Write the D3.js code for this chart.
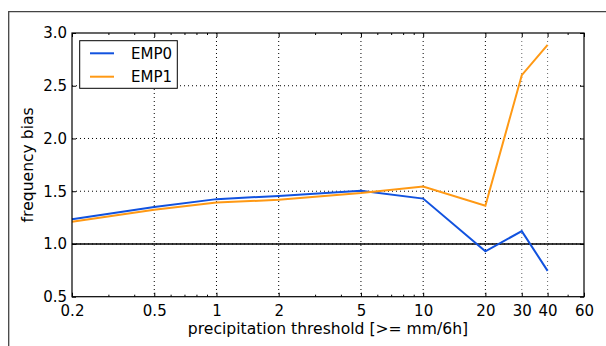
<!DOCTYPE html>
<html>
<head>
<meta charset="utf-8">
<script src="https://cdn.jsdelivr.net/npm/d3@7"></script>
<style>
  html, body { margin: 0; padding: 0; background: #fff; }
  svg { display: block; }
  text { font-family: "DejaVu Sans", sans-serif; fill: #000; }
</style>
</head>
<body>
<svg id="chart" width="606" height="346"></svg>
<script>
// ---- data ----
const thresholds = [0.2, 0.5, 1, 2, 5, 10, 20, 30, 40];
const emp0 = [1.235, 1.35, 1.425, 1.455, 1.505, 1.43, 0.93, 1.122, 0.745];
const emp1 = [1.21, 1.325, 1.392, 1.418, 1.482, 1.545, 1.362, 2.6, 2.887];
const seriesNames = ["EMP0", "EMP1"];
const seriesColors = ["#1152df", "#ff9914"];
const xMajorTicks = [0.2, 0.5, 1, 2, 5, 10, 20, 30, 40, 60];
const xTickLabels = ["0.2", "0.5", "1", "2", "5", "10", "20", "30", "40", "60"];
const xMinorTicks = [0.3, 0.4, 0.6, 0.7, 0.8, 0.9, 3, 4, 6, 7, 8, 9, 50];
const yTicks = [0.5, 1.0, 1.5, 2.0, 2.5, 3.0];
const refValue = 1.0;

// ---- layout ----
const svg = d3.select("#chart");
const L = 72, R = 584, T = 33, B = 296.7;
const x = d3.scaleLog().domain([0.2, 60]).range([L, R]);
const y = d3.scaleLinear().domain([0.5, 3.0]).range([B, T]);

// outer figure border (left & top visible)
svg.append("path")
  .attr("d", `M8.7,346 L8.7,11.7 L606,11.7`)
  .attr("fill", "none").attr("stroke", "#444").attr("stroke-width", 1.3);

// plot background
svg.append("rect").attr("x", L).attr("y", T).attr("width", R - L).attr("height", B - T).attr("fill", "#fff");

// grid
const grid = svg.append("g").attr("stroke", "#000").attr("stroke-width", 1).attr("stroke-dasharray", "1,3");
xMajorTicks.slice(1, -1).forEach(v => {
  grid.append("line").attr("x1", x(v)).attr("x2", x(v)).attr("y1", T).attr("y2", B)
    .attr("stroke", v >= 30 ? "#666" : "#000");
});
yTicks.slice(1, -1).forEach(v => {
  grid.append("line").attr("x1", L).attr("x2", R).attr("y1", y(v)).attr("y2", y(v));
});

// reference line at 1.0
svg.append("line").attr("x1", L).attr("x2", R).attr("y1", y(refValue)).attr("y2", y(refValue))
  .attr("stroke", "#000").attr("stroke-width", 1.5);

// series lines
const line = d3.line().x((d, i) => x(thresholds[i])).y(d => y(d));
[emp0, emp1].forEach((s, k) => {
  svg.append("path").datum(s).attr("d", line)
    .attr("fill", "none").attr("stroke", seriesColors[k]).attr("stroke-width", 2)
    .attr("stroke-linejoin", "miter");
});

// axes with inward ticks
const fmt = d => xTickLabels[xMajorTicks.indexOf(d)];
const axB = svg.append("g").attr("transform", `translate(0,${B})`)
  .call(d3.axisBottom(x).tickValues(xMajorTicks).tickFormat(fmt).tickSize(-4).tickPadding(9));
const axBm = svg.append("g").attr("transform", `translate(0,${B})`)
  .call(d3.axisBottom(x).tickValues(xMinorTicks).tickFormat("").tickSize(-2));
const axT = svg.append("g").attr("transform", `translate(0,${T})`)
  .call(d3.axisTop(x).tickValues(xMajorTicks).tickFormat("").tickSize(-4));
const axTm = svg.append("g").attr("transform", `translate(0,${T})`)
  .call(d3.axisTop(x).tickValues(xMinorTicks).tickFormat("").tickSize(-2));
const axL = svg.append("g").attr("transform", `translate(${L},0)`)
  .call(d3.axisLeft(y).tickValues(yTicks).tickFormat(d3.format(".1f")).tickSize(-4).tickPadding(5));
const axR = svg.append("g").attr("transform", `translate(${R},0)`)
  .call(d3.axisRight(y).tickValues(yTicks).tickFormat("").tickSize(-4));

[axB, axBm, axT, axTm, axL, axR].forEach(g => {
  g.select(".domain").remove();
  g.selectAll(".tick line").attr("stroke", "#000").attr("stroke-width", 1);
  g.selectAll("text").attr("font-size", 15).attr("font-family", "DejaVu Sans, sans-serif").attr("fill", "#000");
});

// frame
svg.append("rect").attr("x", L).attr("y", T).attr("width", R - L).attr("height", B - T)
  .attr("fill", "none").attr("stroke", "#000").attr("stroke-width", 1.2);

// axis labels
svg.append("text").attr("x", (L + R) / 2).attr("y", 334).attr("text-anchor", "middle")
  .attr("font-size", 15.6).text("precipitation threshold [>= mm/6h]");
svg.append("text").attr("transform", `translate(33,${(T + B) / 2}) rotate(-90)`)
  .attr("text-anchor", "middle").attr("font-size", 15.6).text("frequency bias");

// legend
const lg = svg.append("g");
lg.append("rect").attr("x", 79.7).attr("y", 40.7).attr("width", 97.6).attr("height", 47.6)
  .attr("fill", "#fff").attr("stroke", "#000").attr("stroke-width", 1);
seriesNames.forEach((n, k) => {
  const yy = 53.3 + k * 23.4;
  lg.append("line").attr("x1", 90).attr("x2", 114).attr("y1", yy).attr("y2", yy)
    .attr("stroke", seriesColors[k]).attr("stroke-width", 2);
  lg.append("text").attr("x", 131).attr("y", yy).attr("dy", "0.36em").attr("font-size", 15).text(n);
});
</script>
</body>
</html>
